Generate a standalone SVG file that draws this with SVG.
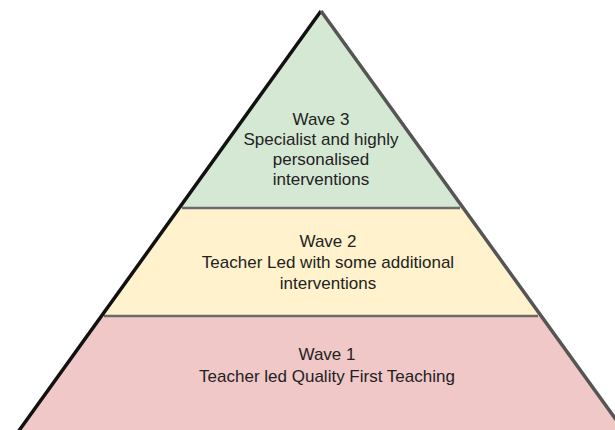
<svg xmlns="http://www.w3.org/2000/svg" width="615" height="430" viewBox="0 0 615 430">
<style>
.t{font-family:"Liberation Sans",Arial,sans-serif;font-size:17px;fill:#222;text-anchor:middle}
.sep{stroke:#6b6b6b;stroke-width:2.5}
</style>
<rect width="615" height="430" fill="#fff"/>
<g id="wave3">
<polygon points="321,12 180,208 462,208" fill="#d5e8d4"/>
<text class="t" x="321" y="125">Wave 3</text>
<text class="t" x="321" y="145">Specialist and highly</text>
<text class="t" x="321" y="165">personalised</text>
<text class="t" x="321" y="185">interventions</text>
</g>
<g id="wave2">
<polygon points="180,208 462,208 540,316 102,316" fill="#fff2cc"/>
<text class="t" x="328" y="247">Wave 2</text>
<text class="t" x="328" y="268">Teacher Led with some additional</text>
<text class="t" x="328" y="289">interventions</text>
</g>
<g id="wave1">
<polygon points="102,316 540,316 622,430 20,430" fill="#f0c8c8"/>
<text class="t" x="327" y="360">Wave 1</text>
<text class="t" x="327" y="382">Teacher led Quality First Teaching</text>
</g>
<g id="connectors">
<line class="sep" x1="182" y1="208" x2="460" y2="208"/>
<line class="sep" x1="104" y1="316" x2="538" y2="316"/>
<line x1="321" y1="11" x2="18" y2="432" stroke="#111" stroke-width="3.5"/>
<line x1="321" y1="11" x2="625" y2="432" stroke="#555" stroke-width="3.5"/>
</g>
</svg>
